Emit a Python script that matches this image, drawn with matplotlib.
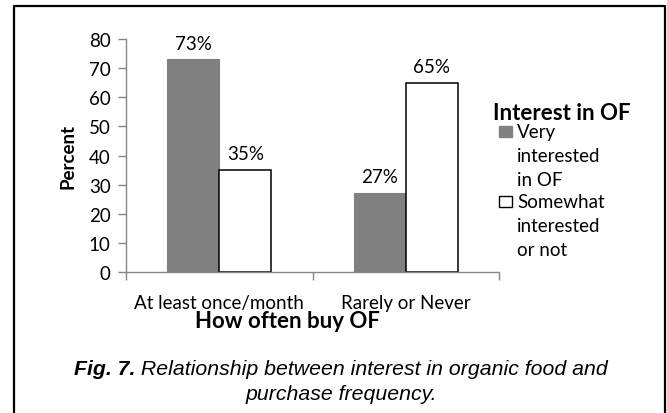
import matplotlib
matplotlib.use("Agg")
import matplotlib.pyplot as plt
from matplotlib.patches import Rectangle
from matplotlib.lines import Line2D
import numpy as np

categories = ["At least once/month", "Rarely or Never"]
very_interested = [73, 27]
somewhat_interested = [35, 65]
series_labels = ["Very\ninterested\nin OF", "Somewhat\ninterested\nor not"]
yticks = [0, 10, 20, 30, 40, 50, 60, 70, 80]
caption_bold = "Fig. 7."
caption_rest = " Relationship between interest in organic food and"
caption_line2 = "purchase frequency."

plt.rcParams['font.family'] = ['Lato', 'DejaVu Sans']

W, H = 667, 414
fig = plt.figure(figsize=(W / 100, H / 100), dpi=100)

# axes box in pixels: left 126, right 499, top 40, bottom 273
ax = fig.add_axes([126 / W, 1 - 273 / H, (499 - 126) / W, (273 - 40) / H])

x = np.arange(len(categories))
bw = 0.28
b1 = ax.bar(x - bw / 2, very_interested, bw, color='#808080', edgecolor='#808080', lw=0.8)
b2 = ax.bar(x + bw / 2, somewhat_interested, bw, color='white', edgecolor='black', lw=1.1)

for bars, vals in [(b1, very_interested), (b2, somewhat_interested)]:
    for r, v in zip(bars, vals):
        ax.text(r.get_x() + r.get_width() / 2, v + 2.7, f"{v}%", ha='center', va='bottom',
                fontsize=13.5)

ax.set_xlim(-0.5, len(categories) - 0.5)
ax.set_ylim(0, 80)
ax.set_yticks(yticks)
ax.tick_params(axis='y', labelsize=13.5, length=6, width=1, color='#868686', pad=5)

# category boundaries get the tick marks, labels sit at the centres
ax.set_xticks(np.arange(len(categories) + 1) - 0.5)
ax.set_xticklabels([])
ax.tick_params(axis='x', which='major', length=6, width=1, color='#868686')
ax.set_xticks(x, minor=True)
ax.set_xticklabels(categories, minor=True)
ax.tick_params(axis='x', which='minor', length=0, labelsize=13.5, pad=16)

for s in ['top', 'right']:
    ax.spines[s].set_visible(False)
for s in ['left', 'bottom']:
    ax.spines[s].set_color('#868686')
    ax.spines[s].set_linewidth(1)

ax.set_ylabel("Percent", fontsize=13.5, fontweight='bold', labelpad=9)
fig.text(287 / W, 1 - 322 / H, "How often buy OF", ha='center', va='center',
         fontsize=16, fontweight='bold')

# legend, drawn by hand to match the wrapped labels
fig.text(493 / W, 1 - 113 / H, "Interest in OF", ha='left', va='center',
         fontsize=16, fontweight='bold')
entry_y = [133, 203]
for bars, lab, ey in zip([b1, b2], series_labels, entry_y):
    fc = bars[0].get_facecolor()
    ec = bars[0].get_edgecolor()
    fig.patches.append(Rectangle((499 / W, 1 - (ey + 5) / H), 13 / W, 11 / H,
                                 transform=fig.transFigure, facecolor=fc,
                                 edgecolor=ec, lw=1.0))
    fig.text(517 / W, 1 - (ey - 9) / H, lab, ha='left', va='top', fontsize=13.5,
             linespacing=1.5)

# caption: bold-italic lead-in followed by plain italic text, centred together
cap_kw = dict(va='center', fontsize=15.3, family='Liberation Sans', style='italic')
t1 = fig.text(0, 1 - 370 / H, caption_bold, fontweight='bold', **cap_kw)
t2 = fig.text(0, 1 - 370 / H, caption_rest, **cap_kw)
r = fig.canvas.get_renderer()
w1 = t1.get_window_extent(r).width
w2 = t2.get_window_extent(r).width
x0 = 341 - (w1 + w2) / 2
t1.set_x(x0 / W)
t2.set_x((x0 + w1) / W)
fig.text(341 / W, 1 - 395 / H, caption_line2, ha='center', **cap_kw)

# outer frame (left, top, right only)
fig.lines.append(Line2D([14 / W, 14 / W, 665 / W, 665 / W], [0, 1 - 7 / H, 1 - 7 / H, 0],
                        transform=fig.transFigure, color='black', lw=1.6))

fig.savefig("out.png", dpi=100)
